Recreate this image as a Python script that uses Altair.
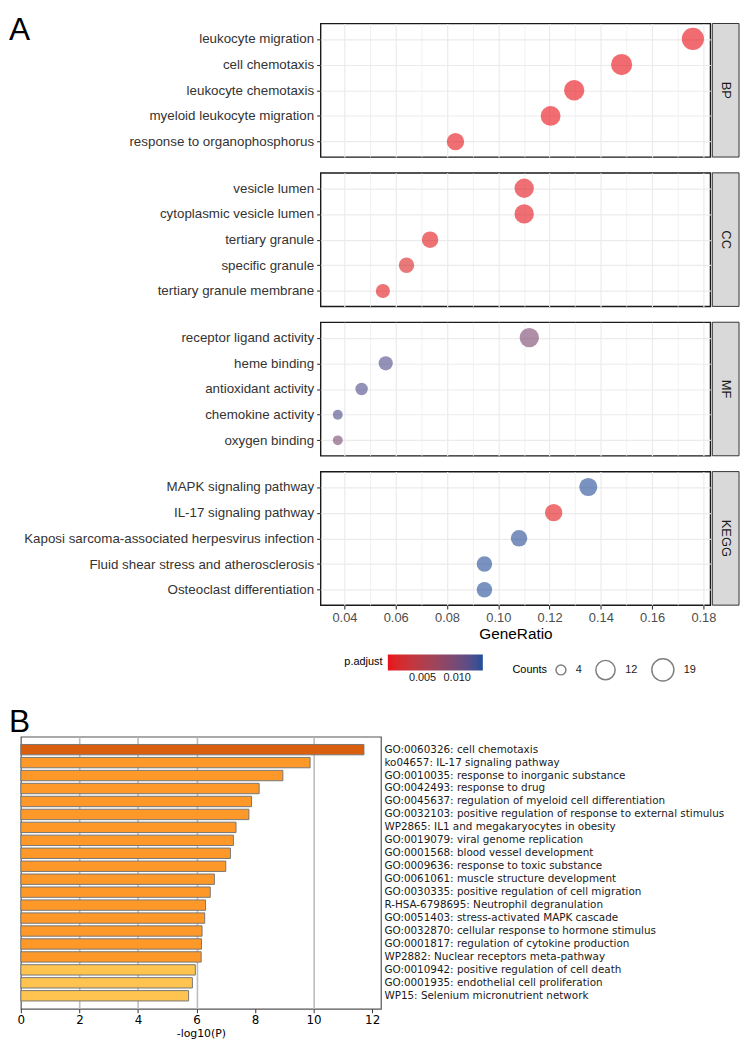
import altair as alt
import pandas as pd

FONT_A = "Liberation Sans"
FONT_B = "DejaVu Sans"

# ---------------- Panel A data (dot plot) ----------------
groups = ["BP", "CC", "MF", "KEGG"]

bp_terms = ["leukocyte migration", "cell chemotaxis", "leukocyte chemotaxis",
            "myeloid leukocyte migration", "response to organophosphorus"]
bp_ratio = [0.1759, 0.1481, 0.1296, 0.1204, 0.0833]
bp_count = [19, 16, 14, 13, 9]
bp_padj = [0.00001, 0.00002, 0.00002, 0.00003, 0.0002]

cc_terms = ["vesicle lumen", "cytoplasmic vesicle lumen", "tertiary granule",
            "specific granule", "tertiary granule membrane"]
cc_ratio = [0.1101, 0.1101, 0.0734, 0.0642, 0.0550]
cc_count = [12, 12, 8, 7, 6]
cc_padj = [0.0003, 0.0003, 0.0004, 0.0013, 0.0006]

mf_terms = ["receptor ligand activity", "heme binding", "antioxidant activity",
            "chemokine activity", "oxygen binding"]
mf_ratio = [0.1121, 0.0561, 0.0467, 0.0374, 0.0374]
mf_count = [12, 6, 5, 4, 4]
mf_padj = [0.0093, 0.0121, 0.0121, 0.0122, 0.0095]

kegg_terms = ["MAPK signaling pathway", "IL-17 signaling pathway",
              "Kaposi sarcoma-associated herpesvirus infection",
              "Fluid shear stress and atherosclerosis", "Osteoclast differentiation"]
kegg_ratio = [0.1351, 0.1216, 0.1081, 0.0946, 0.0946]
kegg_count = [10, 9, 8, 7, 7]
kegg_padj = [0.0135, 0.0004, 0.0134, 0.0135, 0.0135]

x_ticks = [0.04, 0.05, 0.06, 0.07, 0.08, 0.09, 0.10, 0.11, 0.12,
           0.13, 0.14, 0.15, 0.16, 0.17, 0.18]
x_domain = [0.0307, 0.1827]
padj_domain = [0.0, 0.0137]
padj_colors = ["#E8121A", "#1D4F99"]
padj_ticks = [0.005, 0.010]
count_domain = [4, 19]
count_ticks = [4, 12, 19]

# ---------------- Panel B data (bar chart) ----------------
b_terms = [
    "GO:0060326: cell chemotaxis",
    "ko04657: IL-17 signaling pathway",
    "GO:0010035: response to inorganic substance",
    "GO:0042493: response to drug",
    "GO:0045637: regulation of myeloid cell differentiation",
    "GO:0032103: positive regulation of response to external stimulus",
    "WP2865: IL1 and megakaryocytes in obesity",
    "GO:0019079: viral genome replication",
    "GO:0001568: blood vessel development",
    "GO:0009636: response to toxic substance",
    "GO:0061061: muscle structure development",
    "GO:0030335: positive regulation of cell migration",
    "R-HSA-6798695: Neutrophil degranulation",
    "GO:0051403: stress-activated MAPK cascade",
    "GO:0032870: cellular response to hormone stimulus",
    "GO:0001817: regulation of cytokine production",
    "WP2882: Nuclear receptors meta-pathway",
    "GO:0010942: positive regulation of cell death",
    "GO:0001935: endothelial cell proliferation",
    "WP15: Selenium micronutrient network",
]
b_logp = [11.72, 9.88, 8.95, 8.14, 7.88, 7.79, 7.35, 7.26, 7.16, 7.00,
          6.61, 6.47, 6.31, 6.28, 6.19, 6.17, 6.16, 5.96, 5.86, 5.73]
b_ticks = [0, 2, 4, 6, 8, 10, 12]
b_grid = [2, 4, 6, 10]
b_domain = [0, 12.3]
b_bins = [6, 10]
b_colors = ["#FEC44F", "#FE9929", "#D95F0E"]

# ---------------- Panel A build ----------------
W, H, SW = 394, 135, 27
GAP = 12
MAJOR = "round(datum.value * 100) % 2 == 0"
stack_h = 4 * H + 3 * GAP

cscale = alt.Scale(domain=padj_domain, range=padj_colors, interpolate="lab")
sscale = alt.Scale(type="log", domain=count_domain, range=[100, 500])

color_legend = alt.Legend(
    type="gradient", title="p.adjust", orient="none", legendX=24, legendY=stack_h + 62,
    direction="horizontal", titleOrient="left", titleAnchor="middle",
    gradientLength=96, gradientThickness=16, values=padj_ticks, format=".3f",
    labelFontSize=11, labelFont=FONT_A, labelColor="#1A1A1A",
    titleFontSize=11, titleFont=FONT_A, titleFontWeight="normal",
    titleColor="black", titlePadding=5, gradientOpacity=1)
size_legend = alt.Legend(
    title="Counts", orient="none", legendX=194, legendY=stack_h + 65,
    direction="horizontal", titleOrient="left", values=count_ticks,
    symbolType="circle", symbolFillColor="transparent",
    symbolStrokeColor="#7F7F7F", symbolStrokeWidth=1.5, symbolOpacity=1,
    labelFontSize=11, labelFont=FONT_A, labelColor="#1A1A1A", labelOffset=9,
    titleFontSize=11, titleFont=FONT_A, titleFontWeight="normal",
    titleColor="black", titlePadding=8, columnPadding=10)


def x_axis(show):
    common = dict(values=x_ticks, grid=True, gridColor="#EBEBEB",
                  gridWidth={"condition": {"test": MAJOR, "value": 1.2}, "value": 0.7})
    if show:
        return alt.Axis(
            **common,
            labelExpr=f"{MAJOR} ? format(datum.value, '.2f') : ''",
            tickColor={"condition": {"test": MAJOR, "value": "#333333"}, "value": "transparent"},
            tickSize=4, tickWidth=1.1, domain=False, labelFontSize=13,
            labelColor="#4D4D4D", labelFont=FONT_A, labelPadding=3,
            labelFlush=False, labelOverlap=False, title="GeneRatio",
            titleFontSize=15.5, titleFont=FONT_A, titleFontWeight="normal",
            titleColor="black", titlePadding=2)
    return alt.Axis(**common, labels=False, ticks=False, domain=False, title=None)


y_axis = alt.Axis(title=None, labelFontSize=13.5, labelFont=FONT_A,
                  labelColor="#333333", tickSize=4, tickColor="#333333",
                  tickWidth=1.1, domain=False, grid=True, gridColor="#EBEBEB",
                  gridWidth=1.2, labelPadding=3, labelLimit=400)


def make_panel(name, terms, ratio, count, padj, show_x):
    df = pd.DataFrame({"term": terms, "GeneRatio": ratio, "Count": count, "padj": padj})
    pts = alt.Chart(df).mark_circle(opacity=1, fillOpacity=0.62).encode(
        x=alt.X("GeneRatio:Q", scale=alt.Scale(domain=x_domain, nice=False, zero=False),
                axis=x_axis(show_x)),
        y=alt.Y("term:N", sort=terms, scale=alt.Scale(type="point", padding=0.6), axis=y_axis),
        color=alt.Color("padj:Q", scale=cscale, legend=color_legend),
        size=alt.Size("Count:Q", scale=sscale, legend=size_legend),
    )
    strip_df = pd.DataFrame({"ont": [name]})
    strip = alt.Chart(strip_df).mark_rect(fill="#D9D9D9", stroke="#333333",
                                          strokeWidth=1).encode(
        x=alt.value(W + 2), x2=alt.value(W + 2 + SW), y=alt.value(0), y2=alt.value(H))
    label = alt.Chart(strip_df).mark_text(angle=90, fontSize=13, color="#1A1A1A",
                                          font=FONT_A).encode(
        x=alt.value(W + 2 + SW / 2), y=alt.value(H / 2), text="ont:N")
    return alt.layer(pts, strip, label).properties(
        width=W, height=H, view=alt.ViewBackground(stroke="#1A1A1A", strokeWidth=1.4))


panels = [
    make_panel("BP", bp_terms, bp_ratio, bp_count, bp_padj, False),
    make_panel("CC", cc_terms, cc_ratio, cc_count, cc_padj, False),
    make_panel("MF", mf_terms, mf_ratio, mf_count, mf_padj, False),
    make_panel("KEGG", kegg_terms, kegg_ratio, kegg_count, kegg_padj, True),
]

stackA = alt.vconcat(*panels, spacing=GAP).resolve_scale(
    x="independent", y="independent", color="shared", size="shared")

spacer = alt.Chart(pd.DataFrame({"v": [""]})).mark_text(opacity=0).encode(
    text="v:N").properties(width=1, height=1,
                           view=alt.ViewBackground(stroke=None))

panelA = alt.hconcat(
    spacer, stackA, spacing=0,
    title=alt.TitleParams("A", anchor="start", frame="group", fontSize=32,
                          fontWeight="normal", font=FONT_A, baseline="alphabetic",
                          offset=-54, dx=-12, color="black"),
).resolve_scale(color="independent", size="independent")

# ---------------- Panel B build ----------------
dfb = pd.DataFrame({"term": b_terms, "logp": b_logp})
grid_test = " || ".join(f"datum.value == {v}" for v in b_grid)

xb = alt.X("logp:Q", scale=alt.Scale(domain=b_domain, nice=False, zero=True),
           axis=alt.Axis(values=b_ticks, grid=True,
                         gridColor={"condition": {"test": grid_test, "value": "#BDBDBD"},
                                    "value": "transparent"},
                         gridWidth=1.6, domain=False, tickSize=4, tickColor="#333333",
                         labelFontSize=12, labelFont=FONT_B, labelColor="black",
                         labelFlush=False, labelPadding=2, title="-log10(P)",
                         titleFontSize=11, titleFont=FONT_B, titleFontWeight="normal",
                         titleColor="black", titlePadding=2))

panelB = alt.Chart(dfb).mark_bar(stroke="#777777", strokeWidth=1).encode(
    x=xb,
    y=alt.Y("term:N", sort=b_terms, scale=alt.Scale(paddingInner=0.2, paddingOuter=0.6),
            axis=alt.Axis(orient="right", title=None, ticks=False, domain=False,
                          labelFontSize=10.5, labelFont=FONT_B, labelColor="#1A1A1A",
                          labelPadding=3, labelLimit=500)),
    color=alt.Color("logp:Q", scale=alt.Scale(type="threshold", domain=b_bins,
                                              range=b_colors), legend=None),
).properties(
    width=364, height=275,
    view=alt.ViewBackground(stroke="#555555", strokeWidth=1.2),
    title=alt.TitleParams("B", anchor="start", frame="group", fontSize=32,
                          fontWeight="normal", font=FONT_A, baseline="alphabetic",
                          offset=-27, dx=-12, color="black"),
)

chart = alt.vconcat(panelA, panelB, spacing=21).resolve_scale(
    color="independent", size="independent"
).properties(padding=0, background="white").configure(font=FONT_A)

chart.save("out.html", embed_options={"renderer": "svg", "actions": False})
